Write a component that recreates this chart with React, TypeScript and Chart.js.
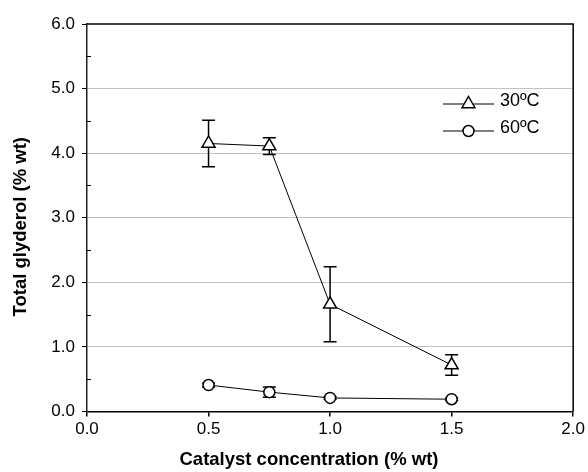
import React, { useEffect, useRef } from "react";
import { Chart, registerables } from "chart.js";

Chart.register(...registerables);

// ---- data ----
const concentrations = [0.5, 0.75, 1.0, 1.5];
const glycerol30 = [4.15, 4.11, 1.66, 0.72];
const error30 = [0.36, 0.13, 0.58, 0.16];
const glycerol60 = [0.41, 0.3, 0.21, 0.19];
const error60 = [0.03, 0.08, 0.02, 0.02];
const seriesLabels = ["30ºC", "60ºC"];
const xTickValues = [0, 0.5, 1.0, 1.5, 2.0];
const yTickValues = [0, 1, 2, 3, 4, 5, 6];
const yMinorTickValues = [0.5, 1.5, 2.5, 3.5, 4.5, 5.5];
const xTitle = "Catalyst concentration (% wt)";
const yTitle = "Total glyderol (% wt)";

const FAMILY = "'Liberation Sans', Arial, Helvetica, sans-serif";

function drawMarker(ctx: CanvasRenderingContext2D, style: string, x: number, y: number, r: number) {
  ctx.beginPath();
  if (style === "triangle") {
    ctx.moveTo(x, y - r);
    ctx.lineTo(x + 0.866 * r, y + 0.5 * r);
    ctx.lineTo(x - 0.866 * r, y + 0.5 * r);
    ctx.closePath();
  } else {
    ctx.arc(x, y, r, 0, Math.PI * 2);
  }
  ctx.fillStyle = "#fff";
  ctx.fill();
  ctx.lineWidth = 1.5;
  ctx.strokeStyle = "#000";
  ctx.stroke();
}

const errorBarPlugin = {
  id: "errorBars",
  beforeDatasetsDraw(chart: any) {
    const { ctx } = chart;
    const xs = chart.scales.x;
    const ys = chart.scales.y;
    ctx.save();
    ctx.strokeStyle = "#000";
    ctx.lineWidth = 1.5;
    chart.data.datasets.forEach((ds: any) => {
      const errs: number[] = ds.errors || [];
      ds.data.forEach((pt: any, i: number) => {
        const e = errs[i];
        if (!e) return;
        const px = xs.getPixelForValue(pt.x);
        const top = ys.getPixelForValue(pt.y + e);
        const bot = ys.getPixelForValue(pt.y - e);
        const cap = 6.5;
        ctx.beginPath();
        ctx.moveTo(px, top);
        ctx.lineTo(px, bot);
        ctx.moveTo(px - cap, top);
        ctx.lineTo(px + cap, top);
        ctx.moveTo(px - cap, bot);
        ctx.lineTo(px + cap, bot);
        ctx.stroke();
      });
    });
    ctx.restore();
  },
};

const framePlugin = {
  id: "frameAndExtras",
  afterDraw(chart: any) {
    const { ctx, chartArea } = chart;
    const { left, right, top, bottom } = chartArea;
    const ys = chart.scales.y;
    ctx.save();
    // top and right frame
    ctx.strokeStyle = "#000";
    ctx.lineWidth = 1.5;
    ctx.beginPath();
    ctx.moveTo(left, top);
    ctx.lineTo(right, top);
    ctx.lineTo(right, bottom);
    ctx.stroke();
    // minor ticks on y axis (inside)
    ctx.lineWidth = 1;
    ctx.beginPath();
    yMinorTickValues.forEach((v) => {
      const py = Math.round(ys.getPixelForValue(v)) + 0.5;
      ctx.moveTo(left, py);
      ctx.lineTo(left + 4, py);
    });
    ctx.stroke();

    // legend
    chart.data.datasets.forEach((ds: any, i: number) => {
      const ly = top + 80 + i * 27;
      const x0 = left + 356;
      const x1 = left + 407;
      ctx.strokeStyle = "#000";
      ctx.lineWidth = 1;
      ctx.beginPath();
      ctx.moveTo(x0, ly);
      ctx.lineTo(x1, ly);
      ctx.stroke();
      drawMarker(ctx, ds.pointStyle, (x0 + x1) / 2, ly, ds.pointRadius);
      ctx.fillStyle = "#000";
      ctx.font = `18px ${FAMILY}`;
      ctx.textAlign = "left";
      ctx.textBaseline = "middle";
      ctx.fillText(ds.label, x1 + 6, ly - 3);
    });

    // axis titles
    ctx.fillStyle = "#000";
    ctx.font = `bold 18.5px ${FAMILY}`;
    ctx.textAlign = "center";
    ctx.textBaseline = "middle";
    ctx.fillText(xTitle, left + 222, chart.height - 12);

    ctx.save();
    ctx.translate(21, (top + bottom) / 2 + 9);
    ctx.rotate(-Math.PI / 2);
    ctx.fillText(yTitle, 0, 0);
    ctx.restore();

    ctx.restore();
  },
};

export default function App() {
  const canvasRef = useRef<HTMLCanvasElement | null>(null);

  useEffect(() => {
    const canvas = canvasRef.current;
    if (!canvas) return;
    const chart = new Chart(canvas, {
      type: "line",
      data: {
        datasets: [
          {
            label: seriesLabels[0],
            data: concentrations.map((x, i) => ({ x, y: glycerol30[i] })),
            errors: error30,
            borderColor: "#000",
            borderWidth: 1,
            pointStyle: "triangle",
            pointRadius: 7.5,
            pointBackgroundColor: "#fff",
            pointBorderColor: "#000",
            pointBorderWidth: 1.5,
            tension: 0,
          } as any,
          {
            label: seriesLabels[1],
            data: concentrations.map((x, i) => ({ x, y: glycerol60[i] })),
            errors: error60,
            borderColor: "#000",
            borderWidth: 1,
            pointStyle: "circle",
            pointRadius: 5.5,
            pointBackgroundColor: "#fff",
            pointBorderColor: "#000",
            pointBorderWidth: 1.5,
            tension: 0,
          } as any,
        ],
      },
      options: {
        animation: false,
        responsive: false,
        devicePixelRatio: 1,
        layout: { padding: { top: 24, right: 12, left: 0, bottom: 0 } },
        plugins: { legend: { display: false }, tooltip: { enabled: false }, title: { display: false } },
        scales: {
          x: {
            type: "linear",
            min: 0,
            max: 2,
            afterBuildTicks: (s: any) => {
              s.ticks = xTickValues.map((v) => ({ value: v }));
            },
            ticks: {
              callback: (v: any) => Number(v).toFixed(1),
              color: "#000",
              font: { family: FAMILY, size: 17 },
              padding: 3,
              maxRotation: 0,
              autoSkip: false,
            },
            grid: { drawOnChartArea: false, tickLength: 5, tickColor: "#000", color: "#000", lineWidth: 1.5 },
            border: { color: "#000", width: 1.5 },
            afterFit: (s: any) => {
              s.height = 60.5;
            },
          },
          y: {
            type: "linear",
            min: 0,
            max: 6,
            afterBuildTicks: (s: any) => {
              s.ticks = yTickValues.map((v) => ({ value: v }));
            },
            ticks: {
              callback: (v: any) => Number(v).toFixed(1),
              color: "#000",
              font: { family: FAMILY, size: 17 },
              padding: 7,
              autoSkip: false,
            },
            grid: {
              color: (c: any) =>
                c.tick && (c.tick.value === 0 || c.tick.value === 6) ? "rgba(0,0,0,0)" : "#c2c2c2",
              tickColor: "#000",
              tickLength: 5,
              lineWidth: 1,
            },
            border: { color: "#222", width: 1.5 },
            afterFit: (s: any) => {
              s.width = 87;
            },
          },
        },
      } as any,
      plugins: [errorBarPlugin, framePlugin],
    });
    return () => chart.destroy();
  }, []);

  return (
    <div style={{ position: "fixed", left: 0, top: 0, width: 588, height: 472, background: "#fff" }}>
      <canvas ref={canvasRef} width={588} height={472} />
    </div>
  );
}
